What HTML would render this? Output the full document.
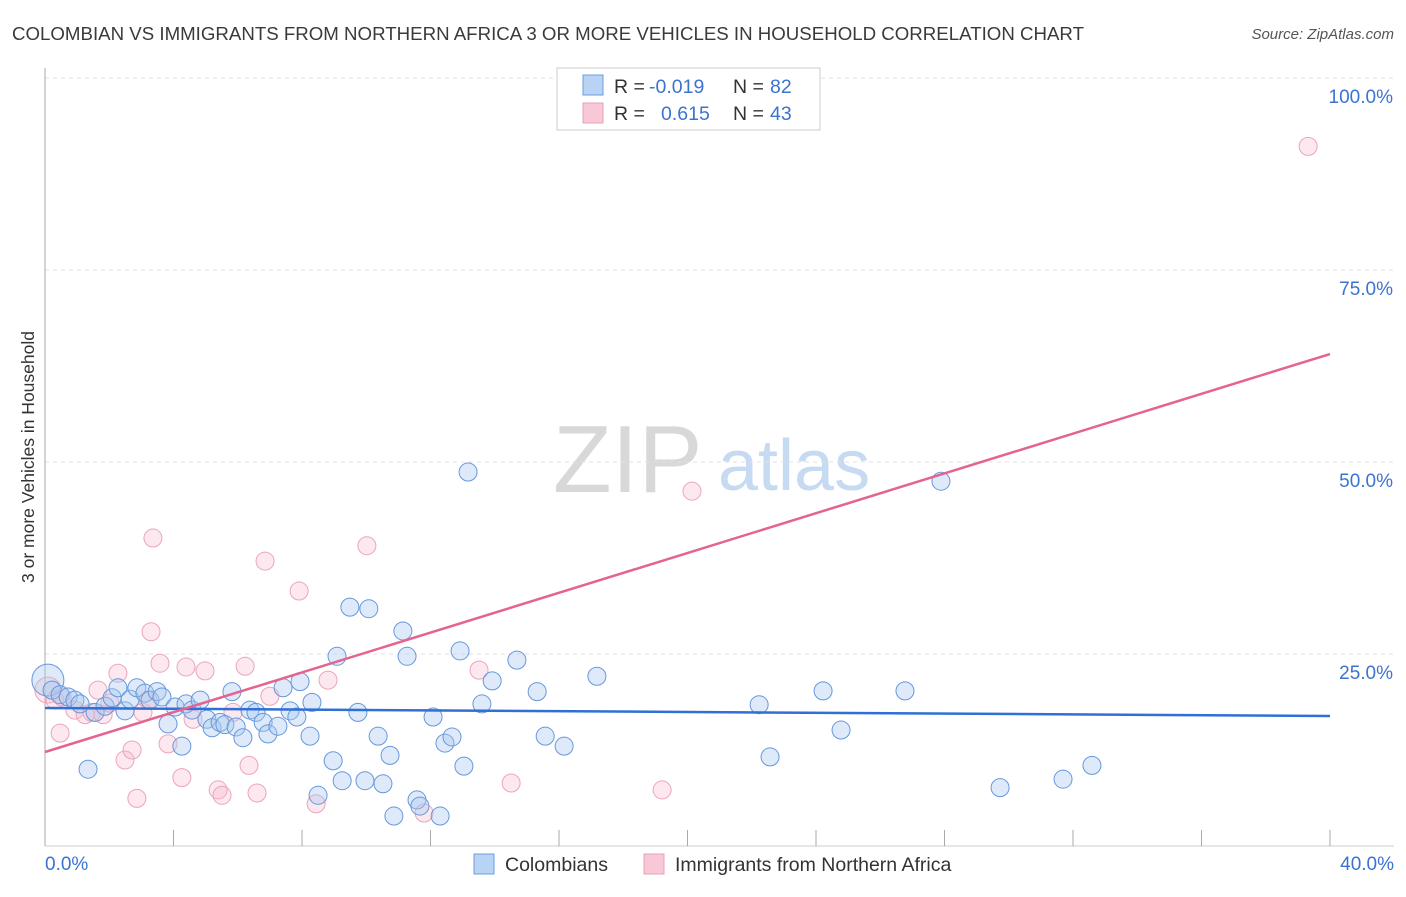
<!DOCTYPE html>
<html><head><meta charset="utf-8"><style>
body{margin:0;background:#fff;font-family:"Liberation Sans",sans-serif;}
svg text{font-family:"Liberation Sans",sans-serif;}
</style></head><body>
<svg id="chart" width="1406" height="892" viewBox="0 0 1406 892" xmlns="http://www.w3.org/2000/svg">
<text x="12" y="40" font-size="18.6" fill="#3a3a3a" textLength="1072" lengthAdjust="spacingAndGlyphs">COLOMBIAN VS IMMIGRANTS FROM NORTHERN AFRICA 3 OR MORE VEHICLES IN HOUSEHOLD CORRELATION CHART</text>
<text x="1394" y="39" font-size="15" fill="#555" text-anchor="end" font-style="italic">Source: ZipAtlas.com</text>
<g>
<text x="553" y="492" font-size="96" fill="#d8d8d8" font-family="Liberation Serif,serif">ZIP</text>
<text x="718" y="490" font-size="72" fill="#c6daf2">atlas</text>
</g>
<g id="grid"></g>
<g id="axes"></g>
<g id="pts"></g>
<g id="lines"></g>
<text transform="translate(34,457) rotate(-90)" font-size="17.5" fill="#333" text-anchor="middle">3 or more Vehicles in Household</text>
<g>
<rect x="557" y="68" width="263" height="62" fill="#fff" stroke="#ccc"/>
<rect x="583" y="75" width="20" height="20" fill="#b9d3f5" stroke="#6a9de0"/>
<rect x="583" y="103" width="20" height="20" fill="#f8c8d6" stroke="#e9a0b7"/>
<text x="614" y="93" font-size="19.5" fill="#333">R =</text>
<text x="649" y="93" font-size="19.5" fill="#3b73d1">-0.019</text>
<text x="733" y="93" font-size="19.5" fill="#333">N =</text>
<text x="770" y="93" font-size="19.5" fill="#3b73d1">82</text>
<text x="614" y="120" font-size="19.5" fill="#333">R =</text>
<text x="661" y="120" font-size="19.5" fill="#3b73d1">0.615</text>
<text x="733" y="120" font-size="19.5" fill="#333">N =</text>
<text x="770" y="120" font-size="19.5" fill="#3b73d1">43</text>
</g>
<g>
<rect x="474" y="854" width="20" height="20" fill="#b9d3f5" stroke="#6a9de0"/>
<text x="505" y="871" font-size="19.5" fill="#333">Colombians</text>
<rect x="644" y="854" width="20" height="20" fill="#f8c8d6" stroke="#e9a0b7"/>
<text x="675" y="871" font-size="19.5" fill="#333">Immigrants from Northern Africa</text>
</g>
</svg>
<script>
const xTicksPct=[0,4,8,12,16,20,24,28,32,36,40];
const yTicks=[25,50,75,100];
const yTickLabels=["25.0%","50.0%","75.0%","100.0%"];
const xEndLabels=["0.0%","40.0%"];
const blueX=[0.09,0.22,0.47,0.72,0.93,1.09,1.34,1.56,1.87,2.09,2.27,2.49,2.65,2.86,3.11,3.27,3.49,3.64,3.83,4.05,4.26,4.39,4.58,4.83,5.04,5.20,5.45,5.60,5.82,5.95,6.16,6.38,6.57,6.79,6.94,7.25,7.41,7.63,7.84,7.94,8.25,8.31,8.50,8.97,9.09,9.25,9.49,9.74,9.96,10.08,10.37,10.52,10.74,11.14,11.27,11.58,11.67,12.08,12.30,12.45,12.67,12.92,13.04,13.17,13.60,13.92,14.69,15.32,15.57,16.16,17.18,22.23,22.57,24.22,24.78,26.77,27.89,29.73,31.69,32.59,10.86];
const blueY=[21.6,20.3,19.7,19.4,19.0,18.5,10.0,17.4,18.2,19.3,20.6,17.6,19.1,20.6,19.9,19.0,20.1,19.4,15.9,18.1,13.0,18.5,17.7,19.0,16.5,15.4,16.1,15.8,20.1,15.5,14.1,17.7,17.4,16.1,14.6,15.6,20.6,17.6,16.8,21.4,14.3,18.7,6.6,11.1,24.7,8.5,31.1,17.4,8.5,30.9,14.3,8.1,11.8,28.0,24.7,6.0,5.2,16.8,3.9,13.4,14.2,25.4,10.4,48.7,18.5,21.5,24.2,20.1,14.3,13.0,22.1,18.4,11.6,20.2,15.1,20.2,47.5,7.6,8.7,10.5,3.9];
const pinkX=[0.09,0.31,0.53,0.93,1.25,1.46,1.65,1.81,2.02,2.27,2.49,2.71,2.86,3.05,3.36,3.30,3.58,3.83,4.26,4.39,4.61,4.98,5.39,5.51,5.85,6.23,6.35,6.60,6.85,7.00,7.91,8.44,8.81,10.02,11.80,13.51,14.51,19.21,20.14,39.32,0.47,3.21];
const pinkY=[20.3,19.0,19.4,17.7,17.1,17.4,20.3,17.1,18.6,22.5,11.2,12.5,6.2,17.4,40.1,27.9,23.8,13.3,8.9,23.3,16.5,22.8,7.3,6.6,17.4,23.4,10.5,6.9,37.1,19.5,33.2,5.5,21.6,39.1,4.3,22.9,8.2,7.3,46.2,91.1,14.7,19.0];
const blueTrend=[17.97,16.93];
const pinkTrend=[12.24,64.06];
const NS="http://www.w3.org/2000/svg";
const X=v=>45+v/40*1285, Y=v=>846-v/25*192;
function mk(tag,attrs,parent){const e=document.createElementNS(NS,tag);for(const k in attrs)e.setAttribute(k,attrs[k]);parent.appendChild(e);return e;}
const grid=document.getElementById('grid'),axes=document.getElementById('axes'),pts=document.getElementById('pts'),lines=document.getElementById('lines');
yTicks.forEach((t,i)=>{
 const l=mk('line',{x1:45,x2:1394,y1:Y(t),y2:Y(t),stroke:'#e2e2e2','stroke-dasharray':'4,4'},grid);
 
 
 const tx=mk('text',{x:1393,y:Y(t)+25,'font-size':19,fill:'#3b73d1','text-anchor':'end'},grid);
 tx.textContent=yTickLabels[i];
 
 
});
const ax=mk('line',{x1:45,x2:45,y1:68,y2:846,stroke:'#aaa'},axes);


const bx=mk('line',{x1:45,x2:1394,y1:846,y2:846,stroke:'#ccc'},axes);


xTicksPct.forEach(t=>{
 const l=mk('line',{x1:X(t),x2:X(t),y1:830,y2:846,stroke:'#aaa'},axes);
 
 
});
const xl0=mk('text',{x:45,y:870,'font-size':19,fill:'#3b73d1'},axes);xl0.textContent=xEndLabels[0];


const xl1=mk('text',{x:1394,y:870,'font-size':19,fill:'#3b73d1','text-anchor':'end'},axes);xl1.textContent=xEndLabels[1];


pinkX.forEach((x,i)=>{
 const c=mk('circle',{cx:X(x),cy:Y(pinkY[i]),r:i===0?13:9,fill:'rgba(246,186,204,0.33)',stroke:'#eba5bb','stroke-width':1},pts);
 
 
});
blueX.forEach((x,i)=>{
 const c=mk('circle',{cx:X(x),cy:Y(blueY[i]),r:i===0?16:9,fill:'rgba(168,200,240,0.38)',stroke:'#6698dd','stroke-width':1},pts);
 
 
});
const bt=mk('line',{x1:X(0),x2:X(40),y1:Y(blueTrend[0]),y2:Y(blueTrend[1]),stroke:'#2f6fd6','stroke-width':2.5},lines);


const pt=mk('line',{x1:X(0),x2:X(40),y1:Y(pinkTrend[0]),y2:Y(pinkTrend[1]),stroke:'#e4638f','stroke-width':2.5},lines);


</script>
</body></html>
